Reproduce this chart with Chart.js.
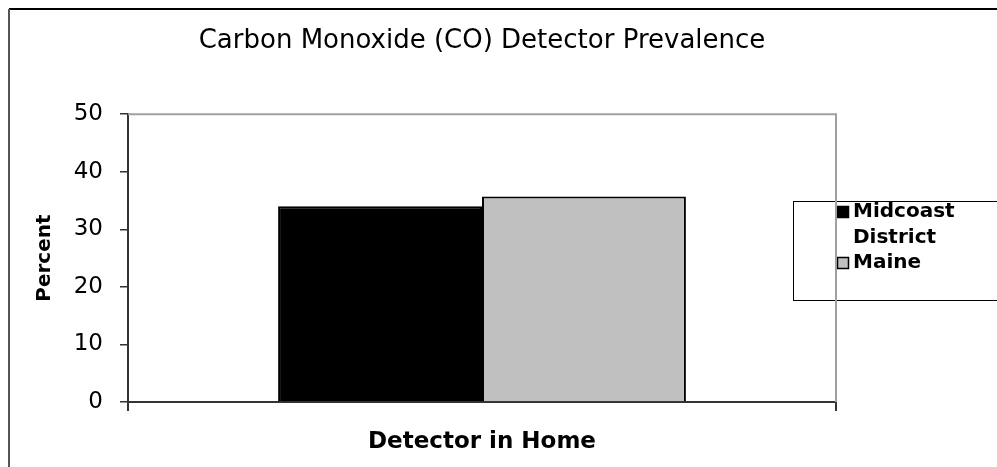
<!DOCTYPE html>
<html>
<head>
<meta charset="utf-8">
<script src="https://cdn.jsdelivr.net/npm/chart.js@4"></script>
<style>
    html, body { margin: 0; padding: 0; background: #fff; }
    canvas { display: block; }
</style>
</head>
<body>
<canvas id="coChart" width="997" height="467"></canvas>
<script>
const chartTitle = 'Carbon Monoxide (CO) Detector Prevalence';
const categories = ['Detector in Home'];
const seriesNames = ['Midcoast District', 'Maine'];
const midcoastValues = [34.0];
const maineValues = [35.7];
const yMin = 0;
const yMax = 50;
const yStep = 10;
const yTitle = 'Percent';

const FONT = '"DejaVu Sans", sans-serif';

// frame round the whole picture, like the Excel chart area
const frame = {
    id: 'frame',
    beforeDraw(chart) {
        const ctx = chart.ctx;
        ctx.save();
        ctx.fillStyle = '#fff';
        ctx.fillRect(0, 0, chart.width, chart.height);
        ctx.lineWidth = 2;
        ctx.strokeStyle = '#000';
        ctx.beginPath();
        ctx.moveTo(9, 9);
        ctx.lineTo(chart.width + 5, 9);
        ctx.stroke();
        ctx.strokeStyle = '#555';
        ctx.beginPath();
        ctx.moveTo(9, 9);
        ctx.lineTo(9, chart.height + 5);
        ctx.stroke();
        ctx.restore();
    },
    afterDraw(chart) {
        const {ctx, chartArea: a} = chart;
        ctx.save();
        ctx.strokeStyle = '#a0a0a0';
        ctx.lineWidth = 2;
        ctx.beginPath();
        ctx.moveTo(a.left, a.top);
        ctx.lineTo(a.right, a.top);
        ctx.lineTo(a.right, a.bottom);
        ctx.stroke();
        ctx.restore();
    }
};

// boxed legend on the right, labels wrapped word by word
const boxLegend = {
    id: 'boxLegend',
    afterDatasetsDraw(chart) {
        const ctx = chart.ctx;
        ctx.save();
        ctx.strokeStyle = '#000';
        ctx.lineWidth = 1;
        ctx.strokeRect(793.5, 201.5, 300, 99);
        ctx.font = 'bold 20px ' + FONT;
        ctx.textBaseline = 'middle';
        ctx.fillStyle = '#000';
        const rows = [[212, 238], [263]];
        chart.data.datasets.forEach((ds, i) => {
            const lines = ds.label.split(' ');
            const y0 = rows[i][0];
            ctx.fillStyle = ds.backgroundColor;
            ctx.fillRect(837, y0 - 6, 12, 12);
            ctx.strokeStyle = '#000';
            ctx.lineWidth = 1.5;
            ctx.strokeRect(837.5, y0 - 5.5, 11, 11);
            ctx.fillStyle = '#000';
            lines.forEach((t, j) => {
                ctx.fillText(t, 853, rows[i][j] !== undefined ? rows[i][j] : y0 + 26 * j);
            });
        });
        ctx.restore();
    }
};

new Chart(document.getElementById('coChart'), {
    type: 'bar',
    data: {
        labels: categories,
        datasets: [{
            label: seriesNames[0],
            data: midcoastValues,
            backgroundColor: '#000000',
            borderColor: '#000000',
            borderWidth: 2,
        },
        {
            label: seriesNames[1],
            data: maineValues,
            backgroundColor: '#c0c0c0',
            borderColor: '#000000',
            borderWidth: 2,
        }]
    },
    options: {
        responsive: false,
        animation: false,
        devicePixelRatio: 1,
        layout: {
            padding: { top: 0, right: 161, bottom: 0, left: 0 }
        },
        datasets: {
            bar: {
                categoryPercentage: 0.576,
                barPercentage: 1.0,
            }
        },
        plugins: {
            legend: { display: false },
            tooltip: { enabled: false },
            title: {
                display: true,
                text: chartTitle,
                fullSize: false,
                color: '#000',
                font: { family: FONT, size: 26, weight: 'normal', lineHeight: 1.2 },
                padding: { top: 26, bottom: 57 }
            }
        },
        scales: {
            x: {
                afterFit(scale) { scale.height = 65; },
                grid: {
                    drawOnChartArea: false,
                    tickLength: 9,
                    color: '#333',
                    lineWidth: 2,
                },
                border: { color: '#333', width: 2 },
                ticks: { display: false },
                title: {
                    display: true,
                    text: categories[0],
                    color: '#000',
                    font: { family: FONT, size: 23, weight: 'bold', lineHeight: 1.2 },
                    padding: { top: 0, bottom: 11 }
                }
            },
            y: {
                min: yMin,
                max: yMax,
                afterFit(scale) { scale.width = 128; },
                grid: {
                    drawOnChartArea: false,
                    tickLength: 8,
                    color: '#333',
                    lineWidth: 1.5,
                },
                border: { color: '#333', width: 2 },
                ticks: {
                    stepSize: yStep,
                    padding: 17,
                    color: '#000',
                    font: { family: FONT, size: 23 }
                },
                title: {
                    display: true,
                    text: yTitle,
                    color: '#000',
                    font: { family: FONT, size: 20, weight: 'bold', lineHeight: 1.2 },
                    padding: { top: 33, bottom: 0 }
                }
            }
        }
    },
    plugins: [frame, boxLegend]
});
</script>
</body>
</html>
